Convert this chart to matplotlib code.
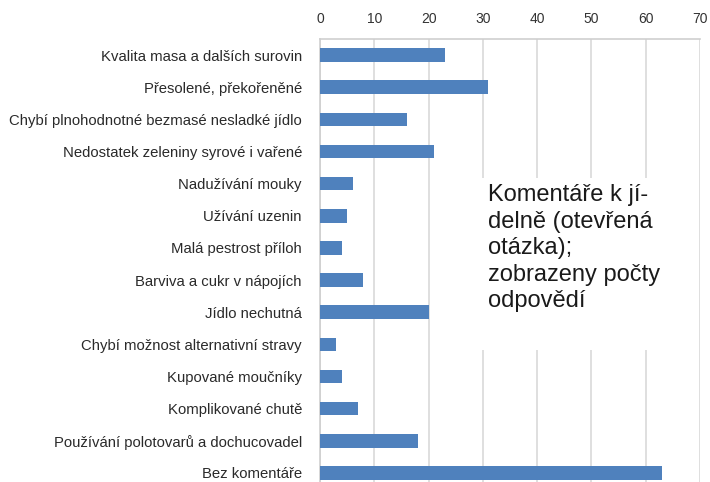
import matplotlib
matplotlib.use('Agg')
import matplotlib.pyplot as plt
from matplotlib.patches import Rectangle

categories = [
    'Kvalita masa a dalších surovin',
    'Přesolené, překořeněné',
    'Chybí plnohodnotné bezmasé nesladké jídlo',
    'Nedostatek zeleniny syrové i vařené',
    'Nadužívání mouky',
    'Užívání uzenin',
    'Malá pestrost příloh',
    'Barviva a cukr v nápojích',
    'Jídlo nechutná',
    'Chybí možnost alternativní stravy',
    'Kupované moučníky',
    'Komplikované chutě',
    'Používání polotovarů a dochucovadel',
    'Bez komentáře',
]
counts = [23, 31, 16, 21, 6, 5, 4, 8, 20, 3, 4, 7, 18, 63]
xticks = [0, 10, 20, 30, 40, 50, 60, 70]
note = 'Komentáře k jí-\ndelně (otevřená\notázka);\nzobrazeny počty\nodpovědí'

plt.rcParams['font.family'] = ['Liberation Sans', 'DejaVu Sans']

W, H = 710, 482
fig = plt.figure(figsize=(W / 100, H / 100), dpi=100)
ax = fig.add_axes([320 / W, 1 - 489 / H, 380 / W, 450 / H])

pos = list(range(len(categories)))
ax.barh(pos, counts, height=0.42, color='#4f81bd', zorder=3)
ax.set_ylim(len(categories) - 0.5, -0.5)
ax.set_xlim(0, 70)
ax.set_xticks(xticks)
ax.xaxis.tick_top()
ax.set_yticks(pos)
ax.set_yticklabels(categories, fontsize=10.7, color='#2a2a2a')
ax.tick_params(axis='x', length=0, pad=9, labelsize=10, labelcolor='#333333')
ax.tick_params(axis='y', length=0, pad=13)
ax.grid(axis='x', color='#d9d9d9', linewidth=1.2, zorder=0)
for side in ['left', 'top']:
    ax.spines[side].set_color('#cfcfcf')
    ax.spines[side].set_linewidth(1.2)
ax.spines['right'].set_visible(False)
ax.spines['bottom'].set_visible(False)

# white box behind the note, hiding the gridlines
fig.add_artist(Rectangle((470 / W, 1 - 350 / H), 226 / W, 172 / H,
                         transform=fig.transFigure, facecolor='white',
                         edgecolor='none', zorder=5))
fig.text(488 / W, 1 - 184 / H, note, fontsize=17, color='#1a1a1a',
         va='top', ha='left', linespacing=1.27, zorder=6,
         family=['Liberation Sans', 'DejaVu Sans'])

fig.savefig('out.png', dpi=100)
